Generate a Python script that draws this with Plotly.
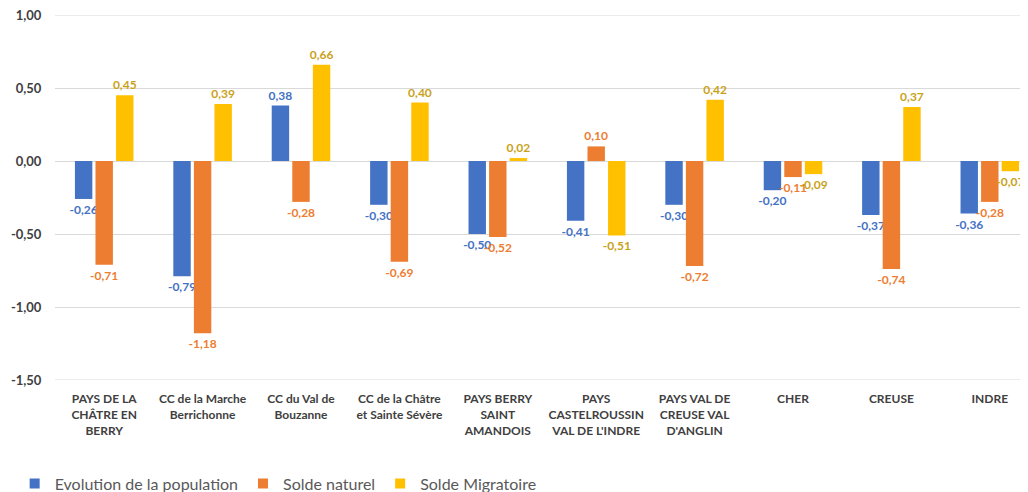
import plotly.graph_objects as go

categories = [
    "PAYS DE LA<br>CHÂTRE EN<br>BERRY",
    "CC de la Marche<br>Berrichonne",
    "CC du Val de<br>Bouzanne",
    "CC de la Châtre<br>et Sainte Sévère",
    "PAYS BERRY<br>SAINT<br>AMANDOIS",
    "PAYS<br>CASTELROUSSIN<br>VAL DE L'INDRE",
    "PAYS VAL DE<br>CREUSE VAL<br>D'ANGLIN",
    "CHER",
    "CREUSE",
    "INDRE",
]
evolution = [-0.26, -0.79, 0.38, -0.30, -0.50, -0.41, -0.30, -0.20, -0.37, -0.36]
naturel = [-0.71, -1.18, -0.28, -0.69, -0.52, 0.10, -0.72, -0.11, -0.74, -0.28]
migratoire = [0.45, 0.39, 0.66, 0.40, 0.02, -0.51, 0.42, -0.09, 0.37, -0.07]
tick_vals = [1.0, 0.5, 0.0, -0.5, -1.0, -1.5]
tick_text = ["1,00", "0,50", "0,00", "-0,50", "-1,00", "-1,50"]

def fmt(v):
    return f"{v:.2f}".replace(".", ",")

series = [
    ("Evolution de la population", evolution, "#4472C4", "#4472C4"),
    ("Solde naturel", naturel, "#ED7D31", "#ED7D31"),
    ("Solde Migratoire", migratoire, "#FFC000", "#C9A21A"),
]

FONT = "Lato, 'Open Sans', sans-serif"
GRID = "#D9D9D9"
fig = go.Figure()
for name, vals, col, tcol in series:
    fig.add_trace(go.Bar(
        name=name, x=categories, y=vals, marker_color=col,
        marker_line_width=0, showlegend=False,
        text=[f"<b>{fmt(v)}</b>" for v in vals], textposition="outside",
        textfont=dict(color=tcol, size=12, family=FONT),
        constraintext="none", cliponaxis=False,
    ))
# legend entries with square markers
for name, vals, col, tcol in series:
    fig.add_trace(go.Scatter(
        name=name, x=[None], y=[None], mode="markers",
        marker=dict(symbol="square", size=10, color=col), showlegend=True,
    ))

# gridlines at the range ends (plotly drops edge gridlines)
for v in (max(tick_vals), min(tick_vals)):
    fig.add_shape(type="line", xref="paper", x0=0, x1=1, yref="y", y0=v, y1=v,
                  line=dict(color=GRID, width=1), layer="below")

PLOT_W = 989
fig.update_layout(
    width=1040, height=500,
    margin=dict(l=42, r=1040 - 42 - PLOT_W, t=7, b=127),
    paper_bgcolor="white", plot_bgcolor="white",
    barmode="group", bargap=0.373, bargroupgap=0.153,
    font=dict(family=FONT, color="#404040"),
    legend=dict(orientation="h", x=-0.041, xanchor="left", y=-0.284, yanchor="middle",
                font=dict(size=16, color="#595959"), itemwidth=30, traceorder="normal",
                tracegroupgap=0),
)
fig.update_yaxes(range=[-1.5, 1.0], tickvals=tick_vals,
                 ticktext=[f"<b>{t}</b>" for t in tick_text],
                 showgrid=True, gridcolor=GRID, gridwidth=1, zeroline=False,
                 tickfont=dict(size=13, color="#404040", family=FONT),
                 showline=False, ticks="outside", ticklen=10,
                 tickcolor="rgba(0,0,0,0)", automargin=False,
                 ticklabeloverflow="allow")
fig.update_xaxes(showgrid=False, showline=False, ticks="outside", ticklen=8,
                 tickcolor="rgba(0,0,0,0)",
                 tickvals=categories, ticktext=[f"<b>{c}</b>" for c in categories],
                 tickfont=dict(size=12, color="#404040", family=FONT),
                 tickangle=0, automargin=False, ticklabeloverflow="allow")

fig.write_html("out.html")
